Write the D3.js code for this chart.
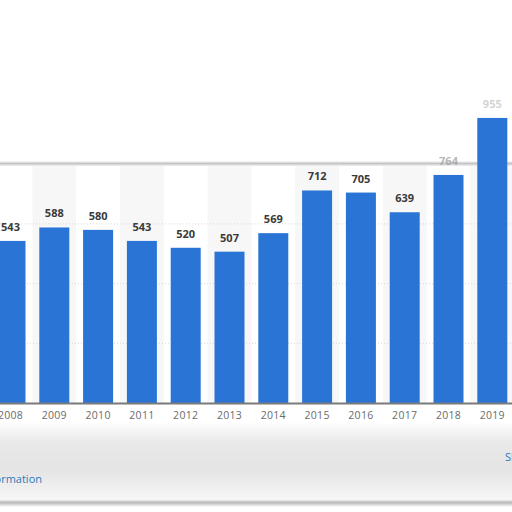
<!DOCTYPE html>
<html>
<head>
<meta charset="utf-8">
<script src="https://cdn.jsdelivr.net/npm/d3@7"></script>
<style>
  body { margin: 0; background: #fff; }
  svg { display: block; font-family: "Open Sans", "DejaVu Sans", sans-serif; }
</style>
</head>
<body>
<div class="article"></div>
<script>
// chart values
var years = ["2008", "2009", "2010", "2011", "2012", "2013", "2014", "2015", "2016", "2017", "2018", "2019"];
var values = [543, 588, 580, 543, 520, 507, 569, 712, 705, 639, 764, 955];
var gridTicks = [200, 400, 600];

var data = years.map((y, i) => ({ year: y, value: values[i] }));

function addGradient(defs, id, stops, horizontal) {
    var g = defs.append("linearGradient").attr("id", id)
        .attr("x1", 0).attr("y1", 0)
        .attr("x2", horizontal ? 1 : 0).attr("y2", horizontal ? 0 : 1);
    stops.forEach(s => g.append("stop").attr("offset", s[0]).attr("stop-color", s[1]));
}

function buildBars(data) {
    var svgWidth = 512;
    var svgHeight = 512;

    var svg = d3.select(".article").append("svg")
        .attr("width", svgWidth)
        .attr("height", svgHeight);

    var defs = svg.append("defs");
    addGradient(defs, "footerGrad", [["0", "#ffffff"], ["0.25", "#e9e9e9"], ["0.6", "#e4e4e4"], ["0.85", "#f1f1f1"], ["1", "#f8f8f8"]]);
    addGradient(defs, "edgeGrad", [["0", "#ffffff"], ["0.45", "#b8b8b8"], ["1", "#ffffff"]]);
    addGradient(defs, "topGrad", [["0", "#ffffff"], ["0.5", "#c4c4c4"], ["1", "#f2f2f2"]]);

    // plot area
    var plotTop = 163, baseline = 403;

    var xScale = d3.scaleBand()
        .domain(years)
        .range([-11.4, 514.2])
        .paddingInner(0.315)
        .paddingOuter(0.1575);

    var yScale = d3.scaleLinear()
        .domain([0, 800])
        .range([baseline, baseline - 800 * 0.2985]);

    // soft grey footer
    svg.append("rect")
        .attr("x", 0).attr("y", 422)
        .attr("width", 512).attr("height", 80)
        .attr("fill", "url(#footerGrad)");
    svg.append("rect")
        .attr("x", 0).attr("y", 499)
        .attr("width", 512).attr("height", 8)
        .attr("fill", "url(#edgeGrad)");

    // alternating column bands
    svg.append("g")
        .selectAll("rect")
        .data(data.filter((d, i) => i % 2 === 1))
        .enter()
        .append("rect")
        .attr("x", d => xScale(d.year) - xScale.step() * xScale.paddingInner() / 2)
        .attr("y", plotTop)
        .attr("width", xScale.step())
        .attr("height", baseline - plotTop)
        .attr("fill", "#f7f7f7");

    // top edge of the plot frame
    svg.append("rect")
        .attr("x", 0).attr("y", plotTop - 2)
        .attr("width", 512).attr("height", 5)
        .attr("fill", "url(#topGrad)");

    // dotted gridlines
    svg.append("g")
        .selectAll("line")
        .data(gridTicks)
        .enter()
        .append("line")
        .attr("x1", 0).attr("x2", 512)
        .attr("y1", d => yScale(d)).attr("y2", d => yScale(d))
        .attr("stroke", "#cfcfcf")
        .attr("stroke-width", 0.8)
        .attr("stroke-dasharray", "1,2");

    // bars
    svg.append("g")
        .selectAll("rect")
        .data(data)
        .enter()
        .append("rect")
        .attr("x", d => xScale(d.year))
        .attr("y", d => yScale(d.value))
        .attr("width", xScale.bandwidth())
        .attr("height", d => baseline - yScale(d.value))
        .attr("fill", "#2a74d6");

    // value labels
    svg.append("g")
        .selectAll("text")
        .data(data)
        .enter()
        .append("text")
        .attr("x", d => xScale(d.year) + xScale.bandwidth() / 2)
        .attr("y", d => yScale(d.value) - 10)
        .attr("text-anchor", "middle")
        .attr("font-size", 11)
        .attr("font-weight", "bold")
        .attr("fill", d => d.value > 750 ? "#a0a0a0" : "#3a3a3a")
        .attr("opacity", d => d.value > 900 ? 0.45 : (d.value > 750 ? 0.75 : 1))
        .text(d => d.value);

    // x axis
    var xAxis = d3.axisBottom(xScale).tickSize(0).tickPadding(9);
    var axisG = svg.append("g")
        .attr("transform", `translate(0, ${baseline})`)
        .call(xAxis);
    axisG.select(".domain")
        .attr("d", "M0,0.5H512")
        .attr("stroke", "#7a7a7a")
        .attr("stroke-width", 2);
    axisG.selectAll("text")
        .attr("font-size", 10.5)
        .attr("fill", "#6b6b6b")
        .attr("letter-spacing", "0.3px")
        .attr("font-family", "\"Open Sans\", sans-serif");

    // footer links
    svg.append("text")
        .attr("x", 42).attr("y", 483)
        .attr("text-anchor", "end")
        .attr("font-size", 11)
        .attr("fill", "#2b7bb9")
        .text("Additional Information");
    svg.append("text")
        .attr("x", 505).attr("y", 461)
        .attr("font-size", 11)
        .attr("fill", "#2b7bb9")
        .text("Show source");
}

buildBars(data);
</script>
</body>
</html>
